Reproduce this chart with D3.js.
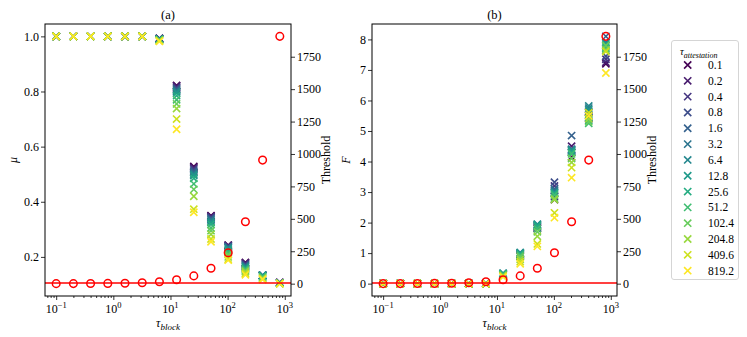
<!DOCTYPE html>
<html><head><meta charset="utf-8">
<script src="https://cdn.jsdelivr.net/npm/d3@7"></script>
<style>body{margin:0;background:#fff} text{font-family:'Liberation Serif','DejaVu Serif',serif;fill:#000}</style>
</head><body>
<svg id="c" width="747" height="337"></svg>
<script>
// ---------- data ----------
const tauBlock = [0.1,0.2,0.4,0.8,1.6,3.2,6.4,12.8,25.6,51.2,102.4,204.8,409.6,819.2];
const tauAttestation = ["0.1","0.2","0.4","0.8","1.6","3.2","6.4","12.8","25.6","51.2","102.4","204.8","409.6","819.2"];
const threshold = [0.2,0.5,0.9,1.9,3.7,7.5,15,30,60,119,238,477,953,1907];
const thresholdLine = [5];
// mu columns: one array per tau_block, values per tau_attestation series
const muColumns = [
  [1,1,1,1,1,1,1,1,1,1,1,1,1,1],
  [1,1,1,1,1,1,1,1,1,1,1,1,1,1],
  [1,1,1,1,1,1,1,1,1,1,1,1,1,1],
  [1,1,1,1,1,1,1,1,1,1,1,1,1,1],
  [1,1,1,1,1,1,1,1,1,1,1,1,1,1],
  [1,1,1,1,1,1,1,1,1,1,1,1,1,1],
  [0.993,0.993,0.992,0.992,0.991,0.99,0.99,0.99,0.989,0.988,0.987,0.985,0.983,0.982],
  [0.822,0.82,0.815,0.812,0.808,0.804,0.80,0.795,0.785,0.77,0.755,0.738,0.70,0.663],
  [0.528,0.524,0.52,0.515,0.51,0.505,0.50,0.495,0.485,0.465,0.445,0.42,0.373,0.362],
  [0.35,0.347,0.345,0.342,0.338,0.335,0.33,0.325,0.318,0.305,0.295,0.282,0.265,0.255],
  [0.243,0.242,0.24,0.238,0.236,0.234,0.232,0.228,0.222,0.215,0.208,0.2,0.192,0.188],
  [0.18,0.178,0.175,0.172,0.17,0.167,0.165,0.162,0.158,0.155,0.15,0.146,0.14,0.135],
  [0.133,0.133,0.133,0.133,0.133,0.134,0.134,0.133,0.13,0.128,0.125,0.122,0.12,0.118],
  [0.107,0.107,0.106,0.106,0.106,0.105,0.105,0.105,0.105,0.104,0.104,0.104,0.103,0.103]
];
const fColumns = [
  [0,0,0,0,0,0,0,0,0,0,0,0,0,0],
  [0,0,0,0,0,0,0,0,0,0,0,0,0,0],
  [0,0,0,0,0,0,0,0,0,0,0,0,0,0],
  [0,0,0,0,0,0,0,0,0,0,0,0,0,0],
  [0,0,0,0,0,0,0,0,0,0,0,0,0,0],
  [0,0,0,0,0,0,0,0,0,0,0,0,0,0],
  [0,0,0,0,0,0,0,0,0,0,0,0,0,0],
  [0.3,0.3,0.3,0.31,0.32,0.33,0.34,0.33,0.32,0.3,0.28,0.26,0.24,0.22],
  [0.9,0.92,0.95,0.97,0.98,1.0,1.02,1.0,0.97,0.93,0.88,0.8,0.72,0.65],
  [1.8,1.82,1.85,1.88,1.9,1.92,1.95,1.93,1.88,1.8,1.7,1.55,1.3,1.22],
  [2.75,2.85,3.2,3.32,3.1,3.05,3.0,2.98,2.95,2.9,2.8,2.75,2.32,2.16],
  [4.15,4.5,4.3,4.4,4.85,4.35,4.4,4.35,4.3,4.25,4.1,3.97,3.8,3.47],
  [5.4,5.45,5.5,5.6,5.65,5.75,5.82,5.7,5.35,5.25,5.3,5.4,5.6,5.5],
  [7.2,7.25,7.35,7.45,8.1,7.9,7.8,7.85,7.75,7.7,7.8,7.65,7.6,6.9]
];
const muTicks = [0.2,0.4,0.6,0.8,1.0];
const fTicks = [0,1,2,3,4,5,6,7,8];
const thresholdTicks = [0,250,500,750,1000,1250,1500,1750];
const xTickExps = [-1,0,1,2,3];

// ---------- drawing ----------
const svg = d3.select("#c");
const colors = tauAttestation.map((d,i)=>d3.interpolateViridis(i/(tauAttestation.length-1)));
function pad(ext){const r=ext[1]-ext[0];return [ext[0]-0.05*r, ext[1]+0.05*r];}
function xPath(s){return `M${-s},${-s}L${s},${s}M${-s},${s}L${s},${-s}`;}

function panel(o){
  const g = svg.append("g");
  const lx = d3.extent(tauBlock).map(Math.log10);
  const pl = pad(lx);
  const x = d3.scaleLog().domain([10**pl[0],10**pl[1]]).range([o.left,o.right]);
  const all = o.cols.flat();
  const y = d3.scaleLinear().domain(pad(d3.extent(all))).range([o.bottom,o.top]);
  const yR = d3.scaleLinear().domain(pad(d3.extent(threshold))).range([o.bottom,o.top]);

  // crosses, series by series
  tauAttestation.forEach((lab,si)=>{
    g.append("g").selectAll("path").data(tauBlock).join("path")
      .attr("transform",(t,bi)=>`translate(${x(t)},${y(o.cols[bi][si])})`)
      .attr("d",xPath(3.6)).attr("stroke",colors[si]).attr("stroke-width",1.6).attr("fill","none");
  });
  // threshold line and circles (twin axis)
  g.selectAll("line.th").data(thresholdLine).join("line").attr("class","th")
    .attr("x1",o.left).attr("x2",o.right).attr("y1",d=>yR(d)).attr("y2",d=>yR(d))
    .attr("stroke","red").attr("stroke-width",1.3);
  g.append("g").selectAll("circle").data(tauBlock).join("circle")
    .attr("cx",t=>x(t)).attr("cy",(t,i)=>yR(threshold[i])).attr("r",3.8)
    .attr("fill","none").attr("stroke","red").attr("stroke-width",1.5);

  // axes
  const fs = 12;
  const xMaj = xTickExps.map(e=>10**e);
  const xMin = [];
  for(let e=-2;e<=3;e++) for(let m=2;m<=9;m++){const v=m*10**e; if(v>=x.domain()[0]&&v<=x.domain()[1]) xMin.push(v);}
  const ax = g.append("g").attr("transform",`translate(0,${o.bottom})`);
  ax.call(d3.axisBottom(x).tickValues(xMaj).tickSize(4).tickFormat(""));
  ax.append("g").call(d3.axisBottom(x).tickValues(xMin).tickSize(2).tickFormat(""));
  ax.selectAll(".domain").remove();
  ax.selectAll("line").attr("stroke","#000").attr("stroke-width",0.8);
  xTickExps.forEach(e=>{
    const t = ax.append("text").attr("x",x(10**e)).attr("y",17).attr("text-anchor","middle").attr("font-size",fs);
    t.append("tspan").text("10");
    t.append("tspan").attr("dy",-5).attr("font-size",8.5).text(e<0?"\u2212"+(-e):String(e));
  });
  const ay = g.append("g").attr("transform",`translate(${o.left},0)`)
    .call(d3.axisLeft(y).tickValues(o.ticks).tickSize(4).tickPadding(2).tickFormat(o.fmt));
  ay.selectAll(".domain").remove();
  ay.selectAll("text").attr("font-size",fs).style("font-family","'Liberation Serif',serif");
  ay.selectAll("line").attr("stroke","#000").attr("stroke-width",0.8);
  const ar = g.append("g").attr("transform",`translate(${o.right},0)`)
    .call(d3.axisRight(yR).tickValues(thresholdTicks).tickSize(4).tickPadding(2).tickFormat(d3.format("d")));
  ar.selectAll(".domain").remove();
  ar.selectAll("text").attr("font-size",fs).style("font-family","'Liberation Serif',serif");
  ar.selectAll("line").attr("stroke","#000").attr("stroke-width",0.8);

  // frame
  g.append("rect").attr("x",o.left).attr("y",o.top).attr("width",o.right-o.left).attr("height",o.bottom-o.top)
    .attr("fill","none").attr("stroke","#000").attr("stroke-width",1);

  // labels
  const cx = (o.left+o.right)/2, cy=(o.top+o.bottom)/2;
  g.append("text").attr("x",cx).attr("y",19).attr("text-anchor","middle").attr("font-size",12.5).text(o.title);
  const xl = g.append("text").attr("x",cx).attr("y",327).attr("text-anchor","middle").attr("font-size",12).attr("font-style","italic");
  xl.append("tspan").text("\u03C4");
  xl.append("tspan").attr("dy",3).attr("font-size",9).text("block");
  g.append("text").attr("transform",`translate(${o.left-o.ylOff},${cy}) rotate(-90)`).attr("text-anchor","middle")
    .attr("font-size",12).attr("font-style","italic").text(o.ylab);
  g.append("text").attr("transform",`translate(${o.right+39},${cy}) rotate(-90)`).attr("text-anchor","middle")
    .attr("font-size",12).text("Threshold");
}

panel({left:45,right:291,top:24,bottom:296,cols:muColumns,ticks:muTicks,fmt:d3.format(".1f"),ylab:"\u03BC",ylOff:28,title:"(a)"});
panel({left:372,right:617,top:24,bottom:296,cols:fColumns,ticks:fTicks,fmt:d3.format("d"),ylab:"F",ylOff:22,title:"(b)"});

// legend
const lg = svg.append("g");
lg.append("rect").attr("x",671.5).attr("y",40.5).attr("width",67).attr("height",239).attr("rx",2.5)
  .attr("fill","#fff").attr("stroke","#d0d0d0").attr("stroke-width",0.9);
const lt = lg.append("text").attr("x",680).attr("y",55).attr("font-size",10.5).attr("font-style","italic");
lt.append("tspan").text("\u03C4");
lt.append("tspan").attr("dy",2.5).attr("font-size",8).text("attestation");
tauAttestation.forEach((lab,i)=>{
  const yy = 65 + i*15.82;
  lg.append("path").attr("transform",`translate(687.7,${yy})`).attr("d",xPath(3.6))
    .attr("stroke",colors[i]).attr("stroke-width",1.6).attr("fill","none");
  lg.append("text").attr("x",708).attr("y",yy+4).attr("font-size",11.5).text(lab);
});
</script>
</body></html>
